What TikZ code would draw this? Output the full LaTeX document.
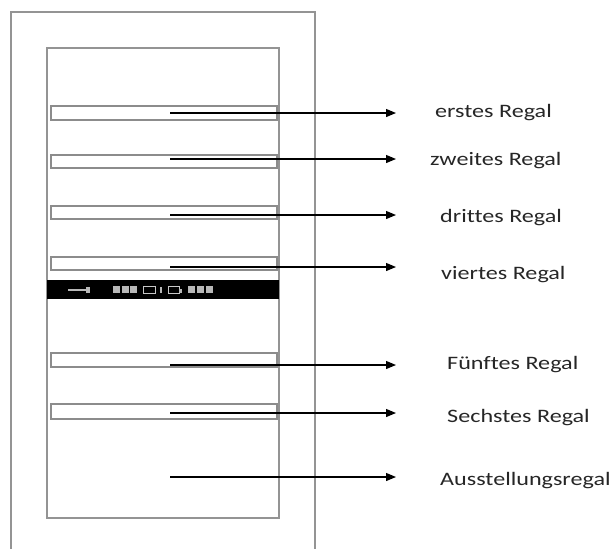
\documentclass[tikz,border=0pt]{standalone}
\usepackage{fontspec}
\setmainfont{Carlito}
\newfontfamily\lblfont[FakeStretch=1.27,Ligatures=NoCommon]{Carlito}
\usetikzlibrary{arrows.meta}
\begin{document}
\begin{tikzpicture}[x=1pt,y=-1pt,
  frame/.style={draw=black!42,line width=1.3pt},
  shelf/.style={draw=black!45,line width=1.1pt},
  pointer/.style={draw=black,line width=1.2pt,-{Triangle[length=10pt,width=8pt]}},
  panelmark/.style={fill=white!72!black},
  panelbox/.style={draw=white!78!black,line width=0.9pt},
  lbl/.style={anchor=base west,inner sep=0pt,font=\lblfont\fontsize{19}{22}\selectfont,text=black!85}]
\useasboundingbox (0,0) rectangle (611,549);
% outer cabinet
\draw[frame] (11,560) -- (11,12) -- (315,12) -- (315,560);
% inner compartment
\draw[frame] (47,48) rectangle (279,518);
% shelves
\foreach \t/\b in {106/120,155/168,206/219,257/270,353/367,404/419}
  \draw[shelf] (51,\t) rectangle (277,\b);
% control panel
\fill[black] (47,280) rectangle (279,299);
\fill[panelmark] (68,288.5) rectangle (88,290.5);
\fill[panelmark] (86,286.5) rectangle (90,292.5);
\foreach \a in {113,121.5,130}
  \fill[panelmark] (\a,286) rectangle (\a+7,293);
\draw[panelbox] (143,286) rectangle (155,293);
\fill[panelmark] (160,286.5) rectangle (162,292.5);
\draw[panelbox] (168,286) rectangle (179,293);
\fill[panelmark] (179,289) rectangle (182,293);
\foreach \a in {188,197,206}
  \fill[panelmark] (\a,286) rectangle (\a+7,293);
% labels
\node[lbl] (l1) at (435,117) {erstes Regal};
\node[lbl] (l2) at (430,165) {zweites Regal};
\node[lbl] (l3) at (440,222) {drittes Regal};
\node[lbl] (l4) at (441,279) {viertes Regal};
\node[lbl] (l5) at (447,369) {Fünftes Regal};
\node[lbl] (l6) at (447,422) {Sechstes Regal};
\node[lbl] (l7) at (440,485) {Ausstellungsregal};
% arrows
\foreach \i/\y in {1/113,2/159,3/215,4/267,5/365,6/413,7/477}{
  \coordinate (s\i) at (170,\y);
  \coordinate (e\i) at (396,\y);
  \draw[pointer] (s\i) -- (e\i);
}
\end{tikzpicture}
\end{document}
